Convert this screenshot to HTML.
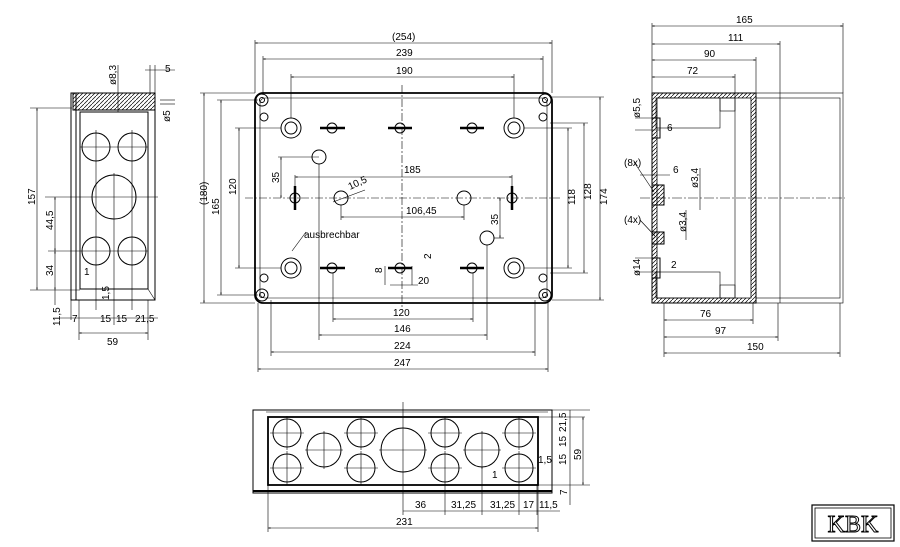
<!DOCTYPE html>
<html><head><meta charset="utf-8"><style>
body{margin:0;background:#fff}
svg{display:block}
text{font-family:"Liberation Sans",sans-serif;font-size:10px;fill:#000}
.l{stroke:#000;stroke-width:1;fill:none}
.t{stroke:#000;stroke-width:0.6;fill:none}
.h{stroke:#000;stroke-width:1.8;fill:none}
</style></head><body>
<svg width="900" height="547" viewBox="0 0 900 547">
<defs>
<marker id="a" viewBox="0 0 10 10" refX="10" refY="5" markerWidth="6" markerHeight="4" orient="auto-start-reverse"><path d="M0,2L10,5L0,8z"/></marker>
<pattern id="hp" width="4" height="4" patternUnits="userSpaceOnUse"><path d="M0,4L4,0" stroke="#000" stroke-width="0.7"/></pattern>
</defs>
<g id="left">
<rect x="71" y="93" width="5" height="207" class="l"/>
<rect x="73" y="93" width="82" height="17" fill="url(#hp)" stroke="#000"/>
<rect x="76" y="110" width="79" height="190" class="l"/>
<rect x="80" y="112" width="68" height="177" class="l"/>
<line x1="148" y1="289" x2="155" y2="300" class="t"/>
<circle cx="96" cy="147" r="14" class="l"/><circle cx="132" cy="147" r="14" class="l"/>
<circle cx="114" cy="197" r="22" class="l"/>
<circle cx="96" cy="251" r="14" class="l"/><circle cx="132" cy="251" r="14" class="l"/>
<g class="t"><line x1="80" y1="147" x2="148" y2="147"/><line x1="80" y1="251" x2="148" y2="251"/><line x1="45" y1="197" x2="158" y2="197"/>
<line x1="96" y1="130" x2="96" y2="310"/><line x1="132" y1="130" x2="132" y2="310"/><line x1="114" y1="173" x2="114" y2="325"/>
<line x1="30" y1="108" x2="72" y2="108"/><line x1="30" y1="290" x2="80" y2="290"/><line x1="48" y1="251" x2="80" y2="251"/>
<line x1="37" y1="108" x2="37" y2="290" marker-start="url(#a)" marker-end="url(#a)"/>
<line x1="55" y1="197" x2="55" y2="251" marker-start="url(#a)" marker-end="url(#a)"/>
<line x1="55" y1="251" x2="55" y2="290" marker-start="url(#a)" marker-end="url(#a)"/>
<line x1="55" y1="290" x2="55" y2="305"/>
<line x1="79" y1="333" x2="148" y2="333" marker-start="url(#a)" marker-end="url(#a)"/>
<line x1="60" y1="318" x2="158" y2="318"/>
<line x1="79" y1="300" x2="79" y2="340"/><line x1="148" y1="300" x2="148" y2="340"/>
<line x1="71" y1="300" x2="71" y2="320"/>
<line x1="145" y1="70" x2="175" y2="70"/><line x1="150" y1="65" x2="150" y2="95"/><line x1="155" y1="65" x2="155" y2="95"/>
<line x1="118" y1="65" x2="118" y2="112"/><line x1="160" y1="100" x2="175" y2="100"/><line x1="160" y1="104" x2="175" y2="104"/>
</g>
<text x="116" y="85" transform="rotate(-90 116 85)" font-size="9">ø8,3</text>
<text x="165" y="72">5</text>
<text x="170" y="122" transform="rotate(-90 170 122)" font-size="9">ø5</text>
<text x="35" y="205" transform="rotate(-90 35 205)">157</text>
<text x="53" y="230" transform="rotate(-90 53 230)">44,5</text>
<text x="53" y="276" transform="rotate(-90 53 276)">34</text>
<text x="84" y="275">1</text><text x="109" y="300" transform="rotate(-90 109 300)">1,5</text>
<text x="44" y="326" transform="rotate(-90 52 318)">11,5</text>
<text x="72" y="322">7</text><text x="100" y="322">15</text><text x="116" y="322">15</text><text x="135" y="322">21,5</text>
<text x="107" y="345">59</text>
</g>

<g id="main">
<rect x="255" y="93" width="297" height="210" rx="8" class="h"/>
<rect x="260" y="98" width="287" height="200" rx="5" class="t"/>
<g class="l">
<circle cx="262" cy="100" r="6"/><circle cx="262" cy="100" r="2.5"/><circle cx="545" cy="100" r="6"/><circle cx="545" cy="100" r="2.5"/>
<circle cx="262" cy="295" r="6"/><circle cx="262" cy="295" r="2.5"/><circle cx="545" cy="295" r="6"/><circle cx="545" cy="295" r="2.5"/>
<circle cx="264" cy="117" r="4"/><circle cx="543" cy="117" r="4"/><circle cx="264" cy="278" r="4"/><circle cx="543" cy="278" r="4"/>
<circle cx="291" cy="128" r="10"/><circle cx="291" cy="128" r="6"/><circle cx="514" cy="128" r="10"/><circle cx="514" cy="128" r="6"/>
<circle cx="291" cy="268" r="10"/><circle cx="291" cy="268" r="6"/><circle cx="514" cy="268" r="10"/><circle cx="514" cy="268" r="6"/>
<circle cx="332" cy="128" r="5"/><circle cx="400" cy="128" r="5"/><circle cx="472" cy="128" r="5"/>
<circle cx="332" cy="268" r="5"/><circle cx="400" cy="268" r="5"/><circle cx="472" cy="268" r="5"/>
<circle cx="319" cy="157" r="7"/><circle cx="341" cy="198" r="7"/><circle cx="464" cy="198" r="7"/><circle cx="487" cy="238" r="7"/>
<circle cx="295" cy="198" r="5"/><circle cx="512" cy="198" r="5"/>
</g>
<g stroke="#000" stroke-width="2.5">
<line x1="320" y1="128" x2="345" y2="128"/><line x1="388" y1="128" x2="412" y2="128"/><line x1="460" y1="128" x2="484" y2="128"/>
<line x1="320" y1="268" x2="345" y2="268"/><line x1="388" y1="268" x2="412" y2="268"/><line x1="460" y1="268" x2="484" y2="268"/>
<line x1="295" y1="186" x2="295" y2="210"/><line x1="512" y1="186" x2="512" y2="210"/>
</g>
<g class="t">
<line x1="402" y1="85" x2="402" y2="310" stroke-dasharray="8 2 2 2"/>
<line x1="245" y1="198" x2="560" y2="198" stroke-dasharray="8 2 2 2"/>
<line x1="255" y1="40" x2="255" y2="93"/><line x1="552" y1="40" x2="552" y2="93"/>
<line x1="263" y1="56" x2="263" y2="95"/><line x1="543" y1="56" x2="543" y2="95"/>
<line x1="291" y1="74" x2="291" y2="118"/><line x1="514" y1="74" x2="514" y2="118"/>
<line x1="255" y1="43" x2="552" y2="43" marker-start="url(#a)" marker-end="url(#a)"/>
<line x1="263" y1="59" x2="543" y2="59" marker-start="url(#a)" marker-end="url(#a)"/>
<line x1="291" y1="77" x2="514" y2="77" marker-start="url(#a)" marker-end="url(#a)"/>
<line x1="200" y1="93" x2="255" y2="93"/><line x1="200" y1="303" x2="255" y2="303"/>
<line x1="217" y1="100" x2="258" y2="100"/><line x1="217" y1="295" x2="258" y2="295"/>
<line x1="235" y1="128" x2="281" y2="128"/><line x1="235" y1="268" x2="281" y2="268"/>
<line x1="204" y1="93" x2="204" y2="303" marker-start="url(#a)" marker-end="url(#a)"/>
<line x1="221" y1="100" x2="221" y2="295" marker-start="url(#a)" marker-end="url(#a)"/>
<line x1="239" y1="128" x2="239" y2="268" marker-start="url(#a)" marker-end="url(#a)"/>
<line x1="524" y1="128" x2="572" y2="128"/><line x1="524" y1="268" x2="572" y2="268"/>
<line x1="550" y1="123" x2="588" y2="123"/><line x1="550" y1="273" x2="588" y2="273"/>
<line x1="552" y1="97" x2="604" y2="97"/><line x1="552" y1="300" x2="604" y2="300"/>
<line x1="568" y1="128" x2="568" y2="268" marker-start="url(#a)" marker-end="url(#a)"/>
<line x1="584" y1="123" x2="584" y2="273" marker-start="url(#a)" marker-end="url(#a)"/>
<line x1="600" y1="97" x2="600" y2="300" marker-start="url(#a)" marker-end="url(#a)"/>
<line x1="278" y1="157" x2="319" y2="157"/><line x1="281" y1="157" x2="281" y2="198" marker-start="url(#a)" marker-end="url(#a)"/>
<line x1="295" y1="175" x2="295" y2="186"/><line x1="512" y1="175" x2="512" y2="186"/>
<line x1="295" y1="177" x2="512" y2="177" marker-start="url(#a)" marker-end="url(#a)"/>
<line x1="341" y1="205" x2="341" y2="220"/><line x1="464" y1="205" x2="464" y2="220"/>
<line x1="341" y1="217" x2="464" y2="217" marker-start="url(#a)" marker-end="url(#a)"/>
<line x1="333" y1="202" x2="365" y2="190"/>
<line x1="497" y1="198" x2="500" y2="198"/><line x1="500" y1="198" x2="500" y2="238" marker-start="url(#a)" marker-end="url(#a)"/><line x1="494" y1="238" x2="504" y2="238"/>
<line x1="319" y1="164" x2="319" y2="340"/><line x1="487" y1="245" x2="487" y2="340"/>
<line x1="333" y1="273" x2="333" y2="322"/><line x1="473" y1="273" x2="473" y2="322"/>
<line x1="271" y1="300" x2="271" y2="356"/><line x1="535" y1="300" x2="535" y2="356"/>
<line x1="258" y1="303" x2="258" y2="372"/><line x1="548" y1="303" x2="548" y2="372"/>
<line x1="333" y1="319" x2="473" y2="319" marker-start="url(#a)" marker-end="url(#a)"/>
<line x1="319" y1="335" x2="487" y2="335" marker-start="url(#a)" marker-end="url(#a)"/>
<line x1="271" y1="352" x2="535" y2="352" marker-start="url(#a)" marker-end="url(#a)"/>
<line x1="258" y1="369" x2="548" y2="369" marker-start="url(#a)" marker-end="url(#a)"/>
<line x1="385" y1="266" x2="385" y2="285"/><line x1="412" y1="266" x2="412" y2="285"/>
<line x1="390" y1="285" x2="418" y2="285"/>
<line x1="292" y1="251" x2="306" y2="232"/>
</g>
<text x="392" y="40">(254)</text><text x="396" y="56">239</text><text x="396" y="74">190</text>
<text x="207" y="205" transform="rotate(-90 207 205)">(180)</text>
<text x="219" y="215" transform="rotate(-90 219 215)">165</text>
<text x="236" y="195" transform="rotate(-90 236 195)">120</text>
<text x="279" y="183" transform="rotate(-90 279 183)">35</text>
<text x="404" y="173">185</text><text x="350" y="190" transform="rotate(-25 350 190)">10,5</text>
<text x="406" y="214">106,45</text>
<text x="498" y="225" transform="rotate(-90 498 225)">35</text>
<text x="304" y="238">ausbrechbar</text>
<text x="382" y="273" transform="rotate(-90 382 273)" font-size="9">8</text>
<text x="431" y="259" transform="rotate(-90 431 259)" font-size="9">2</text>
<text x="418" y="284">20</text>
<text x="393" y="316">120</text><text x="394" y="332">146</text><text x="394" y="349">224</text><text x="394" y="366">247</text>
<text x="575" y="205" transform="rotate(-90 575 205)">118</text>
<text x="591" y="200" transform="rotate(-90 591 200)">128</text>
<text x="607" y="205" transform="rotate(-90 607 205)">174</text>
</g>

<g id="right">
<rect x="652" y="93" width="104" height="210" class="l"/>
<path d="M652,93H756V303H652V93M657,98V298H751V98Z" fill="url(#hp)" stroke="#000" stroke-width="0.8" fill-rule="evenodd"/>
<rect x="656" y="98" width="64" height="30" class="t"/><rect x="720" y="98" width="15" height="13" class="t"/>
<rect x="656" y="272" width="64" height="26" class="t"/><rect x="720" y="285" width="15" height="13" class="t"/>
<line x1="735" y1="98" x2="735" y2="298" class="t"/>
<rect x="756" y="93" width="87" height="210" class="t"/>
<rect x="756" y="98" width="84" height="200" class="t"/>
<line x1="780" y1="93" x2="780" y2="303" class="t"/>
<rect x="652" y="118" width="8" height="20" class="l" fill="#fff"/>
<rect x="652" y="258" width="8" height="20" class="l" fill="#fff"/>
<rect x="652" y="185" width="12" height="20" fill="url(#hp)" stroke="#000"/>
<rect x="652" y="232" width="12" height="12" fill="url(#hp)" stroke="#000"/>
<g class="t">
<line x1="652" y1="23" x2="652" y2="93"/><line x1="843" y1="23" x2="843" y2="93"/>
<line x1="780" y1="41" x2="780" y2="93"/><line x1="756" y1="57" x2="756" y2="93"/><line x1="735" y1="74" x2="735" y2="98"/>
<line x1="652" y1="26" x2="843" y2="26" marker-start="url(#a)" marker-end="url(#a)"/>
<line x1="652" y1="44" x2="780" y2="44" marker-start="url(#a)" marker-end="url(#a)"/>
<line x1="652" y1="60" x2="756" y2="60" marker-start="url(#a)" marker-end="url(#a)"/>
<line x1="652" y1="77" x2="735" y2="77" marker-start="url(#a)" marker-end="url(#a)"/>
<line x1="664" y1="303" x2="664" y2="357"/><line x1="753" y1="303" x2="753" y2="324"/><line x1="778" y1="303" x2="778" y2="341"/><line x1="840" y1="303" x2="840" y2="357"/>
<line x1="664" y1="320" x2="753" y2="320" marker-start="url(#a)" marker-end="url(#a)"/>
<line x1="664" y1="337" x2="778" y2="337" marker-start="url(#a)" marker-end="url(#a)"/>
<line x1="664" y1="353" x2="840" y2="353" marker-start="url(#a)" marker-end="url(#a)"/>
<line x1="640" y1="198" x2="845" y2="198" stroke-dasharray="10 2 2 2"/>
<line x1="635" y1="118" x2="660" y2="118"/><line x1="635" y1="130" x2="660" y2="130"/>
<line x1="640" y1="175" x2="670" y2="175"/><line x1="700" y1="168" x2="700" y2="210"/>
<line x1="686" y1="210" x2="686" y2="240"/><line x1="635" y1="258" x2="660" y2="258"/><line x1="635" y1="272" x2="660" y2="272"/>
<line x1="634" y1="162" x2="654" y2="192"/><line x1="640" y1="220" x2="655" y2="236"/>
</g>
<text x="736" y="23">165</text><text x="728" y="41">111</text><text x="704" y="57">90</text><text x="687" y="74">72</text>
<text x="700" y="317">76</text><text x="715" y="334">97</text><text x="747" y="350">150</text>
<text x="640" y="118" transform="rotate(-90 640 118)" font-size="9">ø5,5</text>
<text x="667" y="131">6</text><text x="673" y="173">6</text>
<text x="624" y="166" font-size="9">(8x)</text><text x="624" y="223" font-size="9">(4x)</text>
<text x="700" y="190" transform="rotate(-90 698 190)" font-size="9">ø3,4</text>
<text x="686" y="232" transform="rotate(-90 686 232)" font-size="9">ø3,4</text>
<text x="640" y="276" transform="rotate(-90 640 276)" font-size="9">ø14</text>
<text x="671" y="268">2</text>
</g>

<g id="bottom">
<rect x="253" y="410" width="299" height="83" class="l"/>
<rect x="268" y="417" width="270" height="68" class="h"/>
<line x1="253" y1="491" x2="552" y2="491" stroke="#000" stroke-width="2"/>
<g class="l">
<circle cx="287" cy="433" r="14"/><circle cx="287" cy="468" r="14"/>
<circle cx="324" cy="450" r="17"/>
<circle cx="361" cy="433" r="14"/><circle cx="361" cy="468" r="14"/>
<circle cx="403" cy="450" r="22"/>
<circle cx="445" cy="433" r="14"/><circle cx="445" cy="468" r="14"/>
<circle cx="482" cy="450" r="17"/>
<circle cx="519" cy="433" r="14"/><circle cx="519" cy="468" r="14"/>
</g>
<g class="t">
<path d="M270,433h34M287,416v34M270,468h34M287,451v34M305,450h38M324,431v38M344,433h34M361,416v34M344,468h34M361,451v34M379,450h48M428,433h34M445,416v34M428,468h34M445,451v34M463,450h38M482,431v38M502,433h34M519,416v34M502,468h34M519,451v34"/>
<line x1="403" y1="402" x2="403" y2="515"/><line x1="445" y1="485" x2="445" y2="515"/><line x1="482" y1="467" x2="482" y2="515"/><line x1="519" y1="485" x2="519" y2="515"/><line x1="537" y1="485" x2="537" y2="515"/>
<line x1="403" y1="511" x2="560" y2="511"/>
<line x1="268" y1="485" x2="268" y2="532"/><line x1="538" y1="485" x2="538" y2="532"/>
<line x1="268" y1="528" x2="538" y2="528" marker-start="url(#a)" marker-end="url(#a)"/>
<line x1="552" y1="410" x2="590" y2="410"/><line x1="538" y1="417" x2="585" y2="417"/><line x1="538" y1="485" x2="590" y2="485"/>
<line x1="583" y1="417" x2="583" y2="485" marker-start="url(#a)" marker-end="url(#a)"/>
<line x1="570" y1="410" x2="570" y2="505"/>
<line x1="266" y1="412" x2="548" y2="412"/>
</g>
<text x="415" y="508">36</text><text x="451" y="508">31,25</text><text x="490" y="508">31,25</text><text x="523" y="508">17</text><text x="539" y="508">11,5</text>
<text x="396" y="525">231</text>
<text x="566" y="432" transform="rotate(-90 566 432)" font-size="9">21,5</text>
<text x="566" y="447" transform="rotate(-90 566 447)" font-size="9">15</text>
<text x="566" y="465" transform="rotate(-90 566 465)" font-size="9">15</text>
<text x="581" y="460" transform="rotate(-90 581 460)">59</text>
<text x="567" y="495" transform="rotate(-90 567 495)" font-size="9">7</text>
<text x="538" y="463" font-size="9">1,5</text><text x="492" y="478" font-size="9">1</text>
</g>

<rect x="812" y="505" width="82" height="36" fill="none" stroke="#000" stroke-width="1.2"/>
<rect x="815" y="508" width="76" height="30" fill="none" stroke="#000" stroke-width="0.8"/>
<text x="853" y="532" text-anchor="middle" style="font-family:'Liberation Serif',serif;font-size:24px;fill:#fff;stroke:#000;stroke-width:1">KBK</text>
</svg>
</body></html>
